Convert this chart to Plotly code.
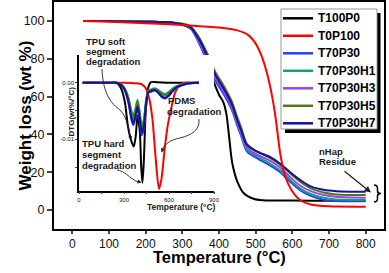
import plotly.graph_objects as go

# ---------------- data ----------------
series_names = ["T100P0", "T0P100", "T70P30", "T70P30H1", "T70P30H3", "T70P30H5", "T70P30H7"]
series_colors = ["#000000", "#ff0000", "#2244ee", "#14a07c", "#a040f0", "#4d7a14", "#12129a"]

# Main TGA curves (weight %, vs temperature °C)
tga_temp_black = [30, 100, 200, 280, 310, 330, 350, 370, 385, 400, 412, 420, 428, 436, 450, 467, 494, 520, 600, 700, 800]
tga_black = [100, 99.9, 99.6, 98.9, 97.3, 95.0, 88.0, 76.0, 68.0, 61.0, 57.0, 51.0, 38.0, 25.0, 15.0, 9.0, 6.0, 5.2, 5.0, 4.9, 4.9]

tga_temp_red = [30, 100, 200, 300, 400, 450, 480, 500, 515, 530, 545, 555, 567, 580, 598, 620, 650, 700, 800]
tga_red = [100, 99.6, 98.8, 97.8, 96.5, 95.0, 92.5, 88.0, 82.0, 73.0, 60.0, 48.0, 30.0, 18.0, 10.5, 5.5, 3.0, 2.0, 1.8]

tga_temp = [30, 100, 200, 280, 320, 345, 370, 390, 412, 435, 450, 460, 476, 503, 540, 567, 594, 621, 650, 685, 720, 800]
tga_T70P30 = [100, 99.9, 99.6, 98.7, 96.5, 88.5, 77.5, 68.5, 61.5, 53.0, 44.5, 39.5, 31.0, 27.5, 23.5, 20.0, 15.0, 10.5, 7.5, 5.5, 4.8, 4.7]
tga_H1 = [100, 99.9, 99.6, 98.8, 96.8, 89.5, 79.0, 70.0, 63.0, 54.0, 45.5, 40.5, 32.0, 28.5, 24.5, 21.0, 16.0, 11.5, 8.5, 6.5, 5.6, 5.4]
tga_H3 = [100, 99.9, 99.6, 98.8, 96.8, 89.5, 79.0, 70.0, 63.0, 54.4, 46.0, 41.0, 33.0, 29.5, 26.0, 22.5, 17.5, 13.0, 10.0, 8.0, 7.0, 6.5]
tga_H5 = [100, 99.9, 99.6, 99.0, 97.5, 91.5, 82.0, 73.0, 66.0, 57.5, 49.0, 44.0, 35.0, 31.0, 27.5, 24.0, 19.5, 15.0, 11.5, 9.3, 8.3, 8.0]
tga_H7 = [100, 99.9, 99.6, 98.9, 97.0, 90.5, 80.5, 71.5, 64.5, 56.0, 47.5, 42.5, 34.5, 31.0, 28.0, 24.5, 20.0, 16.0, 12.5, 10.7, 10.0, 9.7]

# Inset DTG curves (wt%/°C)
dtg_temp_black = [25, 100, 200, 260, 285, 307, 325, 345, 365, 378, 390, 405, 415, 423, 432, 445, 460, 480, 520, 600, 700, 800]
dtg_black = [0, 0, 0, -0.0002, -0.0013, -0.0036, -0.0075, -0.0100, -0.0113, -0.0095, -0.0058, -0.0085, -0.0150, -0.0177, -0.0140, -0.0050, -0.0010, 0.0001, 0.0001, 0, 0, 0]

dtg_temp_red = [25, 100, 200, 300, 380, 420, 445, 470, 490, 510, 533, 550, 570, 590, 615, 640, 665, 690, 720, 800]
dtg_red = [0, 0, 0, 0, -0.0001, -0.0003, -0.0010, -0.0030, -0.0065, -0.0130, -0.0188, -0.0170, -0.0120, -0.0078, -0.0045, -0.0018, -0.0006, -0.0001, 0, 0]

dtg_temp = [25, 100, 200, 250, 280, 307, 330, 350, 362, 375, 390, 403, 418, 432, 445, 462, 480, 505, 530, 555, 575, 600, 625, 650, 690, 730, 800]
dtg_T70P30 = [0, 0, 0, 0, -0.0004, -0.0015, -0.0036, -0.0066, -0.0075, -0.0064, -0.0045, -0.0062, -0.0093, -0.0082, -0.0045, -0.0018, -0.0016, -0.0014, -0.0018, -0.0026, -0.0028, -0.0023, -0.0015, -0.0009, -0.0004, -0.0001, 0]
dtg_H1 = [0, 0, 0, 0, -0.0003, -0.0011, -0.0027, -0.0050, -0.0058, -0.0048, -0.0030, -0.0048, -0.0075, -0.0066, -0.0036, -0.0014, -0.0012, -0.0010, -0.0013, -0.0018, -0.0020, -0.0016, -0.0010, -0.0006, -0.0003, -0.0001, 0]
dtg_H3 = [0, 0, 0, 0, -0.0004, -0.0013, -0.0032, -0.0060, -0.0068, -0.0058, -0.0040, -0.0057, -0.0085, -0.0075, -0.0041, -0.0016, -0.0014, -0.0013, -0.0017, -0.0024, -0.0026, -0.0021, -0.0014, -0.0008, -0.0004, -0.0001, 0]
dtg_H5 = [0, 0, 0, 0, -0.0003, -0.0012, -0.0029, -0.0054, -0.0062, -0.0052, -0.0034, -0.0052, -0.0080, -0.0070, -0.0038, -0.0015, -0.0013, -0.0011, -0.0015, -0.0020, -0.0022, -0.0018, -0.0012, -0.0007, -0.0003, -0.0001, 0]
dtg_H7 = [0, 0, 0, 0, -0.0004, -0.0014, -0.0034, -0.0063, -0.0072, -0.0061, -0.0042, -0.0060, -0.0088, -0.0078, -0.0043, -0.0017, -0.0015, -0.0013, -0.0018, -0.0025, -0.0027, -0.0022, -0.0014, -0.0008, -0.0004, -0.0001, 0]

main_xticks = [0, 100, 200, 300, 400, 500, 600, 700, 800]
main_yticks = [0, 20, 40, 60, 80, 100]
inset_xticks = [0, 300, 600, 900]
inset_yticks = [0, -0.01]
inset_yticklabels = ["0.00", "-0.01"]

# ---------------- layout helpers (pixel -> paper) ----------------
W, H = 389, 273
ML, MR, MT, MB = 54, 5, 2, 44
PW, PH = W - ML - MR, H - MT - MB


def px(x):
    return (x - ML) / PW


def py(y):
    return (H - MB - y) / PH


def path(cmds):
    out = []
    for c in cmds:
        if isinstance(c, str):
            out.append(c)
        else:
            out.append(f"{px(c[0]):.5f},{py(c[1]):.5f}")
    return " ".join(out)


fig = go.Figure()

main_sets = [
    (tga_temp_black, tga_black),
    (tga_temp_red, tga_red),
    (tga_temp, tga_T70P30),
    (tga_temp, tga_H1),
    (tga_temp, tga_H3),
    (tga_temp, tga_H5),
    (tga_temp, tga_H7),
]
inset_sets = [
    (dtg_temp_black, dtg_black),
    (dtg_temp_red, dtg_red),
    (dtg_temp, dtg_T70P30),
    (dtg_temp, dtg_H1),
    (dtg_temp, dtg_H3),
    (dtg_temp, dtg_H5),
    (dtg_temp, dtg_H7),
]

draw_order = [0, 2, 3, 4, 5, 6, 1]
for i in draw_order:
    xs, ys = main_sets[i]
    fig.add_trace(go.Scatter(x=xs, y=ys, mode="lines", name=series_names[i],
                             line=dict(color=series_colors[i], width=2, shape="spline", smoothing=0.8),
                             showlegend=False))
for i in [0, 1, 2, 3, 4, 5, 6]:
    xs, ys = inset_sets[i]
    fig.add_trace(go.Scatter(x=xs, y=ys, mode="lines", name=series_names[i],
                             line=dict(color=series_colors[i], width=2, shape="spline", smoothing=0.7),
                             xaxis="x2", yaxis="y2", showlegend=False))

tick_font = dict(family="Liberation Sans, Arial, sans-serif", size=12, color="#111")
ytick_font = dict(family="Liberation Sans, Arial, sans-serif", size=12.5, color="#111")
small_font = dict(family="Liberation Sans, Arial, sans-serif", size=6, color="#111")
fig.update_layout(
    width=W, height=H,
    margin=dict(l=ML, r=MR, t=MT, b=MB, autoexpand=False),
    paper_bgcolor="white", plot_bgcolor="white",
    showlegend=False,
    xaxis=dict(range=[-50, 850], tickvals=main_xticks, ticks="outside", ticklen=2.5, tickwidth=1.5,
               showline=True, linecolor="black", linewidth=2, mirror=True, showgrid=False,
               zeroline=False, tickfont=tick_font, automargin=False),
    yaxis=dict(range=[-10, 110], tickvals=main_yticks, ticks="outside", ticklen=5, tickwidth=1.5,
               showline=True, linecolor="black", linewidth=2, mirror=True, showgrid=False,
               zeroline=False, tickfont=ytick_font, automargin=False),
    xaxis2=dict(domain=[px(79), px(214)], anchor="y2", range=[0, 900], tickvals=inset_xticks,
                ticks="outside", ticklen=2, tickwidth=1, showline=True, linecolor="black", linewidth=1.5,
                showgrid=False, zeroline=False, automargin=False,
                minor=dict(dtick=150, ticks="outside", ticklen=2, tickwidth=1, showgrid=False),
                tickfont=small_font),
    yaxis2=dict(domain=[py(190.7), py(55)], anchor="x2", range=[-0.0191, 0.0049],
                tickvals=inset_yticks, ticktext=inset_yticklabels,
                ticks="outside", ticklen=2, tickwidth=1, showline=True, linecolor="black", linewidth=1.5,
                showgrid=False, zeroline=False, automargin=False,
                minor=dict(dtick=0.005, ticks="outside", ticklen=2, tickwidth=1, showgrid=False),
                tickfont=small_font),
)

ann = []
bold = "Liberation Sans, Arial, sans-serif"
# axis titles
ann.append(dict(x=px(219), y=py(266.5), xref="paper", yref="paper", text="<b>Temperature (°C)</b>",
                showarrow=False, borderpad=0, font=dict(family=bold, size=16.5, color="black")))
ann.append(dict(x=px(14), y=py(116), xref="paper", yref="paper", text="<b>Weight loss (wt %)</b>",
                textangle=-90, showarrow=False, borderpad=0, font=dict(family=bold, size=17, color="black")))
ann.append(dict(x=px(146), y=py(213), xref="paper", yref="paper", text="<b>Temperature (°C)</b>",
                showarrow=False, borderpad=0, font=dict(family=bold, size=8.5, color="#222")))
ann.append(dict(x=px(65), y=py(112), xref="paper", yref="paper", text="<b>DTG(wt%/°C)</b>",
                textangle=-90, showarrow=False, borderpad=0, font=dict(family=bold, size=8, color="#222")))

note_font = dict(family=bold, size=9.5, color="#1a1a1a")
notes = [
    ("TPU soft", 85, 41.5), ("segment", 85, 51.5), ("degradation", 85, 62),
    ("TPU hard", 81, 143.3), ("segment", 81, 154.3), ("degradation", 81, 165.7),
    ("PDMS", 167, 100.5), ("degradation", 166, 111.5),
    ("nHap", 318, 151.5), ("Residue", 318, 162),
]
for t, x, y in notes:
    ann.append(dict(x=px(x), y=py(y), xref="paper", yref="paper", text=f"<b>{t}</b>", showarrow=False,
                    xanchor="left", yanchor="middle", borderpad=0, font=note_font))


def arrow(hx, hy, tx, ty, w=1.0, size=0.8):
    return dict(x=px(hx), y=py(hy), xref="paper", yref="paper", text="", showarrow=True,
                ax=tx - hx, ay=ty - hy, axref="pixel", ayref="pixel",
                arrowhead=2, arrowsize=size, arrowwidth=w, arrowcolor="#222", standoff=0)


ann.append(arrow(371, 192.5, 343, 170, w=1.3, size=1.0))
ann.append(arrow(131, 140, 129.8, 134))
ann.append(arrow(141.5, 182.6, 136, 181))
ann.append(arrow(161.5, 152.5, 163.5, 147))

# legend text
for i, name in enumerate(series_names):
    ann.append(dict(x=px(316.5), y=py(18.3 + 17.5 * i), xref="paper", yref="paper", text=f"<b>{name}</b>",
                    showarrow=False, xanchor="left", yanchor="middle", borderpad=0,
                    font=dict(family=bold, size=12, color="black")))

shapes = []
shapes.append(dict(type="path", xref="paper", yref="paper",
                   path=path(["M", (102, 69), "C", (103, 95), (112, 104), (120, 110), "C", (126, 116), (128, 125), (130, 135)]),
                   line=dict(color="#222", width=0.9)))
shapes.append(dict(type="path", xref="paper", yref="paper",
                   path=path(["M", (117, 170), "C", (125, 171), (129, 178), (138, 182)]),
                   line=dict(color="#222", width=0.9)))
shapes.append(dict(type="path", xref="paper", yref="paper",
                   path=path(["M", (199, 119), "C", (200, 130), (192, 135), (180, 138), "C", (170, 140), (165, 144), (162.5, 149)]),
                   line=dict(color="#222", width=0.9)))
shapes.append(dict(type="path", xref="paper", yref="paper",
                   path=path(["M", (374, 185), "Q", (377.5, 185), (377.5, 188.5), "L", (377.5, 191),
                              "Q", (377.5, 193.5), (381, 193.5), "Q", (377.5, 193.5), (377.5, 196),
                              "L", (377.5, 198.5), "Q", (377.5, 202), (374, 202)]),
                   line=dict(color="black", width=1.5)))
shapes.append(dict(type="rect", xref="paper", yref="paper", x0=px(285), x1=px(380.5), y0=py(133), y1=py(13),
                   fillcolor="black", line=dict(width=0)))
shapes.append(dict(type="rect", xref="paper", yref="paper", x0=px(281), x1=px(377), y0=py(129), y1=py(9),
                   fillcolor="white", line=dict(color="#999", width=1)))
for i, c in enumerate(series_colors):
    yy = py(18.3 + 17.5 * i)
    shapes.append(dict(type="line", xref="paper", yref="paper", x0=px(283), x1=px(313), y0=yy, y1=yy,
                       line=dict(color=c, width=2.5)))

fig.update_layout(annotations=ann, shapes=shapes)
fig.write_html("out.html", config={"displayModeBar": False},
               post_script="document.body.style.margin='0';document.body.style.padding='0';"
                           "document.documentElement.style.overflow='hidden';")
